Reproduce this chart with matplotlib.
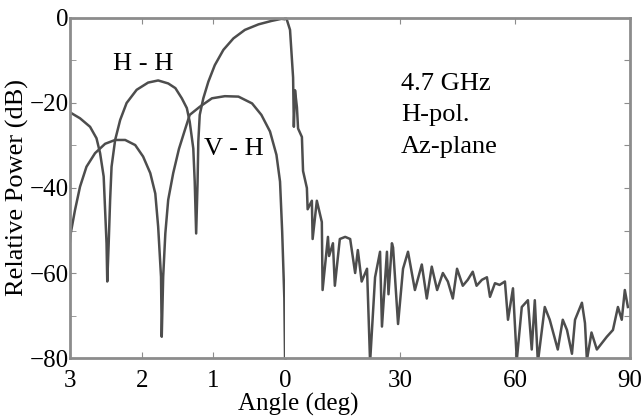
import matplotlib
matplotlib.use("Agg")
import matplotlib.pyplot as plt

plt.rcParams['font.family'] = ['Liberation Serif', 'DejaVu Serif']

# fine-scale part (angle 3 -> 0 deg)
hh_ang = [3.02, 2.86, 2.72, 2.63, 2.58, 2.53, 2.51, 2.49, 2.48, 2.46, 2.44, 2.42, 2.37,
          2.30, 2.21, 2.07, 1.91, 1.77, 1.63, 1.53, 1.44, 1.37, 1.33, 1.28, 1.26, 1.24,
          1.22, 1.21, 1.19, 1.14, 1.07, 0.98, 0.86, 0.72, 0.56, 0.37, 0.19, 0.05, 0.0]
hh_db = [-22.0, -23.6, -25.6, -28.3, -31.8, -37.3, -45.2, -53, -62, -53, -42.8, -35, -28.7,
         -24, -20, -16.9, -15.2, -14.7, -15.4, -16.5, -18.9, -21.2, -24.4, -30.7, -38.5, -50.7,
         -38.5, -29.1, -22.8, -18.9, -15, -11.1, -7.5, -4.8, -2.8, -1.5, -0.7, -0.2, -0.3]

vh_ang = [3.02, 2.99, 2.93, 2.86, 2.77, 2.65, 2.51, 2.37, 2.23, 2.09, 1.98, 1.88, 1.81,
          1.77, 1.73, 1.72, 1.70, 1.67, 1.63, 1.56, 1.48, 1.40, 1.33, 1.19, 1.02, 0.84,
          0.65, 0.46, 0.33, 0.21, 0.12, 0.07, 0.04, 0.01, 0.0]
vh_db = [-56, -50.7, -45.2, -39.7, -35, -31.8, -29.6, -28.7, -28.7, -29.9, -32.6, -36.5, -41.3,
         -49.1, -60.9, -75, -60.9, -50.7, -42.8, -36.5, -30.8, -26.5, -22.8, -20.9, -18.9, -18.4,
         -18.5, -20.1, -22.8, -26.7, -32.2, -38.5, -50.3, -66, -80]

# wide-angle part (angle 0 -> 90 deg)
wide_ang = [0.0, 0.5, 1.3, 2.1, 2.3, 2.6, 3.1, 3.4, 4.4, 4.7, 5.7, 5.9, 7.0, 7.2, 8.3, 9.6, 9.8,
            11.2, 11.5, 12.5, 13.0, 14.3, 15.7, 17.0, 18.3, 19.0, 20.0, 21.4, 22.2, 23.5,
            24.8, 25.3, 26.6, 27.0, 27.9, 28.2, 29.5, 30.8, 32.1, 33.9, 35.7, 37.0, 38.3,
            39.7, 41.2, 42.5, 43.8, 44.9, 46.4, 47.7, 49.0, 50.0, 51.4, 52.7, 53.5, 54.8,
            56.0, 57.4, 58.2, 59.5, 60.5, 61.8, 63.4, 64.4, 65.2, 66.0, 67.8, 69.1, 71.2,
            72.5, 73.6, 74.9, 75.7, 77.5, 78.3, 78.8, 80.0, 81.4, 82.7, 84.0, 85.6, 86.9,
            87.9, 88.7, 89.5]
wide_db = [0, -0.5, -2.8, -14, -25.6, -17, -21, -26, -28, -36, -40, -45, -43, -52, -43, -48, -64,
           -51.5, -56, -53, -63, -52, -51.5, -52, -60, -54.6, -62, -59, -81, -61,
           -55, -72.6, -55, -65, -53, -54, -72, -59, -55, -64, -58, -66, -58.5,
           -64, -60, -62, -66, -59, -63, -61.6, -59.7, -63, -61.6, -61, -65.6, -62.4,
           -62.8, -62, -71, -63.6, -80.5, -68, -66.4, -78, -66.4, -81, -68, -71, -78,
           -71, -73.4, -79, -71, -67, -71.8, -80.5, -74, -78, -76.5, -75, -73.4, -68,
           -71, -64, -68]

fig = plt.figure(figsize=(6.42, 4.18), dpi=100)
axL = fig.add_axes([0.109, 0.1435, 0.335, 0.8135])
axR = fig.add_axes([0.444, 0.1435, 0.537, 0.8135])

line_c = '0.3'
frame_c = '0.55'

axL.plot(hh_ang, hh_db, color=line_c, lw=1.8)
axL.plot(vh_ang, vh_db, color=line_c, lw=1.8)
axR.plot(wide_ang, wide_db, color=line_c, lw=1.8)

axL.set_xlim(3, 0)
axR.set_xlim(0, 90)
for ax in (axL, axR):
    ax.set_ylim(-80, 0)
    for s in ax.spines.values():
        s.set_color(frame_c)
        s.set_linewidth(2)
    ax.tick_params(direction='in', length=4, color=frame_c, labelsize=18,
                   top=True, right=True)
    ax.tick_params(axis='x', pad=8.5)

axL.spines['right'].set_visible(False)
axR.spines['left'].set_visible(False)
axL.set_xticks([3, 2, 1, 0])
axL.set_yticks([0, -20, -40, -60, -80])
axL.set_yticks(range(-70, 0, 20), minor=True)
axL.tick_params(which='minor', direction='in', length=4, color=frame_c)
axL.tick_params(axis='y', right=False, pad=1)
axR.set_xticks([30, 60, 90])
axR.set_yticks(range(-70, 0, 10))
axR.tick_params(axis='y', left=False, labelleft=False)

axL.set_ylabel('Relative Power (dB)', fontsize=19, labelpad=0)
fig.text(0.465, 0.004, 'Angle (deg)', ha='center', va='bottom', fontsize=18)

axL.text(1.98, -12.2, 'H - H', fontsize=19, ha='center', va='baseline')
axL.text(0.71, -32.2, 'V - H', fontsize=19, ha='center', va='baseline')
for i, s in enumerate(['4.7 GHz', 'H-pol.', 'Az-plane']):
    axR.text(30.3, -16.9 - 7.45 * i, s, fontsize=19, ha='left', va='baseline')

fig.savefig('out.png', dpi=100)
